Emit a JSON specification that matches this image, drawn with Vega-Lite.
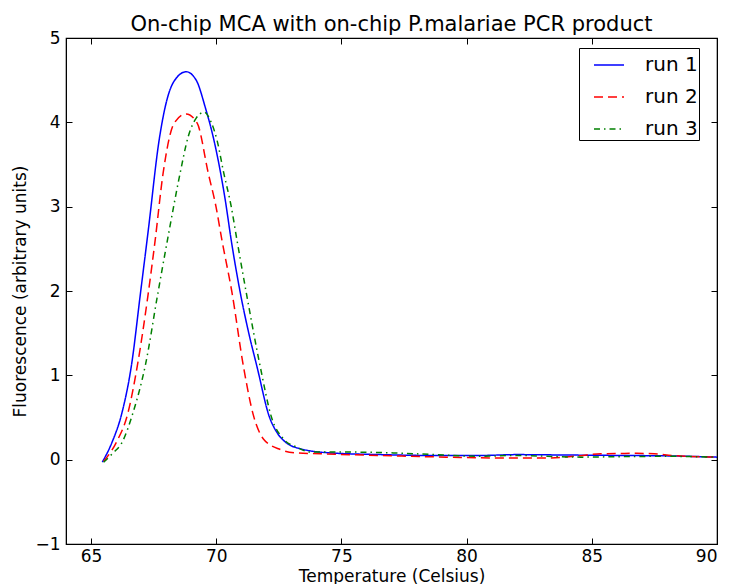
{
  "$schema": "https://vega.github.io/schema/vega-lite/v6.json",
  "width": 651,
  "height": 506,
  "autosize": {"type": "none"},
  "padding": {"left": 66, "top": 38, "right": 12, "bottom": 40},
  "background": "white",
  "config": {
    "font": "DejaVu Sans",
    "view": {"stroke": "black", "strokeWidth": 1.2},
    "axis": {"grid": false, "domainColor": "black", "tickColor": "black", "labelColor": "black", "titleColor": "black", "labelFont": "DejaVu Sans", "titleFont": "DejaVu Sans", "labelFontSize": 17, "titleFontSize": 17, "titleFontWeight": "normal", "tickSize": -6, "tickWidth": 1}
  },
  "title": {"text": "On-chip MCA with on-chip P.malariae PCR product", "fontSize": 21, "fontWeight": "normal", "font": "DejaVu Sans", "color": "black", "offset": -6, "anchor": "middle"},
  "data": {"values": [
    {"run": "run 1", "t": 65.45, "f": -0.03},
    {"run": "run 1", "t": 65.83, "f": 0.2},
    {"run": "run 1", "t": 66.23, "f": 0.55},
    {"run": "run 1", "t": 66.63, "f": 1.15},
    {"run": "run 1", "t": 66.96, "f": 1.94},
    {"run": "run 1", "t": 67.29, "f": 2.73},
    {"run": "run 1", "t": 67.72, "f": 3.79},
    {"run": "run 1", "t": 67.96, "f": 4.18},
    {"run": "run 1", "t": 68.3, "f": 4.48},
    {"run": "run 1", "t": 68.8, "f": 4.6},
    {"run": "run 1", "t": 69.2, "f": 4.5},
    {"run": "run 1", "t": 69.56, "f": 4.18},
    {"run": "run 1", "t": 69.96, "f": 3.72},
    {"run": "run 1", "t": 70.36, "f": 3.08},
    {"run": "run 1", "t": 70.6, "f": 2.6},
    {"run": "run 1", "t": 70.96, "f": 1.98},
    {"run": "run 1", "t": 71.3, "f": 1.5},
    {"run": "run 1", "t": 71.63, "f": 1.1},
    {"run": "run 1", "t": 72.12, "f": 0.51},
    {"run": "run 1", "t": 72.43, "f": 0.32},
    {"run": "run 1", "t": 72.8, "f": 0.2},
    {"run": "run 1", "t": 73.36, "f": 0.13},
    {"run": "run 1", "t": 74.56, "f": 0.08},
    {"run": "run 1", "t": 76.56, "f": 0.06},
    {"run": "run 1", "t": 78.5, "f": 0.05},
    {"run": "run 1", "t": 80.56, "f": 0.05},
    {"run": "run 1", "t": 82.0, "f": 0.06},
    {"run": "run 1", "t": 84.0, "f": 0.055},
    {"run": "run 1", "t": 86.0, "f": 0.05},
    {"run": "run 1", "t": 88.0, "f": 0.045},
    {"run": "run 1", "t": 90.0, "f": 0.03},
    {"run": "run 2", "t": 65.5, "f": -0.02},
    {"run": "run 2", "t": 66.0, "f": 0.2},
    {"run": "run 2", "t": 66.47, "f": 0.55},
    {"run": "run 2", "t": 66.87, "f": 1.15},
    {"run": "run 2", "t": 67.27, "f": 1.94},
    {"run": "run 2", "t": 67.56, "f": 2.6},
    {"run": "run 2", "t": 67.88, "f": 3.4},
    {"run": "run 2", "t": 68.32, "f": 3.99},
    {"run": "run 2", "t": 68.8, "f": 4.1},
    {"run": "run 2", "t": 69.24, "f": 3.99},
    {"run": "run 2", "t": 69.68, "f": 3.4},
    {"run": "run 2", "t": 69.99, "f": 3.0},
    {"run": "run 2", "t": 70.23, "f": 2.6},
    {"run": "run 2", "t": 70.63, "f": 1.98},
    {"run": "run 2", "t": 71.09, "f": 1.1},
    {"run": "run 2", "t": 71.5, "f": 0.51},
    {"run": "run 2", "t": 71.9, "f": 0.24},
    {"run": "run 2", "t": 72.56, "f": 0.12},
    {"run": "run 2", "t": 73.2, "f": 0.08},
    {"run": "run 2", "t": 74.16, "f": 0.07},
    {"run": "run 2", "t": 76.56, "f": 0.05},
    {"run": "run 2", "t": 79.2, "f": 0.03},
    {"run": "run 2", "t": 81.2, "f": 0.02},
    {"run": "run 2", "t": 83.2, "f": 0.02},
    {"run": "run 2", "t": 84.3, "f": 0.04},
    {"run": "run 2", "t": 85.36, "f": 0.07},
    {"run": "run 2", "t": 86.8, "f": 0.075},
    {"run": "run 2", "t": 87.5, "f": 0.07},
    {"run": "run 2", "t": 88.2, "f": 0.05},
    {"run": "run 2", "t": 89.9, "f": 0.03},
    {"run": "run 3", "t": 65.5, "f": -0.03},
    {"run": "run 3", "t": 65.88, "f": 0.08},
    {"run": "run 3", "t": 66.23, "f": 0.2},
    {"run": "run 3", "t": 66.67, "f": 0.55},
    {"run": "run 3", "t": 67.19, "f": 1.15},
    {"run": "run 3", "t": 67.65, "f": 1.94},
    {"run": "run 3", "t": 68.08, "f": 2.65},
    {"run": "run 3", "t": 68.56, "f": 3.4},
    {"run": "run 3", "t": 68.88, "f": 3.83},
    {"run": "run 3", "t": 69.2, "f": 4.05},
    {"run": "run 3", "t": 69.52, "f": 4.12},
    {"run": "run 3", "t": 69.8, "f": 4.0},
    {"run": "run 3", "t": 70.03, "f": 3.79},
    {"run": "run 3", "t": 70.3, "f": 3.4},
    {"run": "run 3", "t": 70.6, "f": 3.0},
    {"run": "run 3", "t": 70.83, "f": 2.6},
    {"run": "run 3", "t": 71.2, "f": 1.98},
    {"run": "run 3", "t": 71.76, "f": 1.1},
    {"run": "run 3", "t": 72.2, "f": 0.51},
    {"run": "run 3", "t": 72.7, "f": 0.24},
    {"run": "run 3", "t": 73.2, "f": 0.15},
    {"run": "run 3", "t": 73.76, "f": 0.09},
    {"run": "run 3", "t": 75.36, "f": 0.09},
    {"run": "run 3", "t": 77.1, "f": 0.08},
    {"run": "run 3", "t": 78.7, "f": 0.06},
    {"run": "run 3", "t": 80.56, "f": 0.04},
    {"run": "run 3", "t": 81.9, "f": 0.05},
    {"run": "run 3", "t": 84.56, "f": 0.03},
    {"run": "run 3", "t": 85.9, "f": 0.035},
    {"run": "run 3", "t": 87.9, "f": 0.04},
    {"run": "run 3", "t": 90.0, "f": 0.03}
  ]},
  "layer": [
    {
      "mark": {"type": "line", "interpolate": "monotone", "strokeWidth": 1.5},
      "encoding": {
        "x": {"field": "t", "type": "quantitative", "scale": {"domain": [64, 90], "nice": false, "zero": false},
              "axis": {"orient": "bottom", "values": [65, 70, 75, 80, 85, 90], "title": "Temperature (Celsius)", "labelPadding": 10, "titlePadding": 4}},
        "y": {"field": "f", "type": "quantitative", "scale": {"domain": [-1, 5], "nice": false, "zero": false},
              "axis": {"orient": "left", "values": [-1, 0, 1, 2, 3, 4, 5], "title": "Fluorescence (arbitrary units)", "labelPadding": 12, "titlePadding": 5}},
        "color": {"field": "run", "type": "nominal", "scale": {"domain": ["run 1", "run 2", "run 3"], "range": ["#0000ff", "#ff0000", "#008000"]},
                  "legend": {"title": null, "orient": "none", "legendX": 513, "legendY": 10, "strokeColor": "black", "fillColor": "white", "padding": 1, "symbolOffset": 13, "symbolType": "stroke", "symbolSize": 900, "symbolStrokeWidth": 1.5, "labelFontSize": 20, "labelFont": "DejaVu Sans", "labelColor": "black", "rowPadding": 6, "labelOffset": 20, "cornerRadius": 0}},
        "strokeDash": {"field": "run", "type": "nominal", "scale": {"domain": ["run 1", "run 2", "run 3"], "range": [[1, 0], [9, 5], [6, 4, 1.5, 4]]}, "legend": null}
      }
    },
    {
      "mark": {"type": "line", "opacity": 0},
      "encoding": {
        "x": {"field": "t", "type": "quantitative", "axis": {"orient": "top", "values": [65, 70, 75, 80, 85, 90], "labels": false, "title": null, "minExtent": 0, "maxExtent": 0}},
        "y": {"field": "f", "type": "quantitative", "axis": {"orient": "right", "values": [-1, 0, 1, 2, 3, 4, 5], "labels": false, "title": null, "minExtent": 0, "maxExtent": 0}},
        "detail": {"field": "run", "type": "nominal"}
      }
    }
  ],
  "resolve": {"axis": {"x": "independent", "y": "independent"}}
}
